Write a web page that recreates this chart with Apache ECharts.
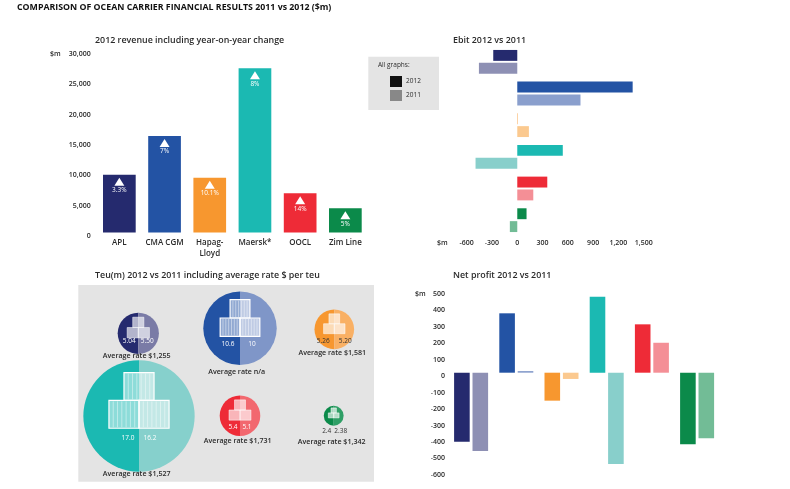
<!DOCTYPE html>
<html>
<head>
<meta charset="utf-8">
<style>html,body{margin:0;padding:0;background:#fff}#chart{width:790px;height:489px}</style>
<script src="https://cdn.jsdelivr.net/npm/echarts@6/dist/echarts.min.js"></script>
</head>
<body>
<div id="chart"></div>
<script>
// Carriers and their results
const carriers = ['APL', 'CMA CGM', 'Hapag-\nLloyd', 'Maersk*', 'OOCL', 'Zim Line'];
const revenue2012 = [9530, 15900, 9030, 27070, 6460, 3990];
const revenueChange = ['3.3%', '7%', '10.1%', '8%', '14%', '5%'];
const ebit2012 = [-285, 1369, 5, 540, 356, 110];
const ebit2011 = [-455, 750, 138, -495, 190, -88];
const netProfit2012 = [-419, 361, -170, 462, 294, -435];
const netProfit2011 = [-476, 10, -38, -555, 182, -399];
const teu2012 = [5.04, 10.6, 5.26, 17.0, 5.4, 2.4];
const teu2011 = [5.50, 10, 5.20, 16.2, 5.1, 2.38];
const teuLabels2012 = ['5.04', '10.6', '5.26', '17.0', '5.4', '2.4'];
const teuLabels2011 = ['5.50', '10', '5.20', '16.2', '5.1', '2.38'];
const averageRates = ['$1,255', 'n/a', '$1,581', '$1,527', '$1,731', '$1,342'];
const revenueTicks = { min: 0, max: 30000, interval: 5000 };
const ebitTicks = { min: -600, max: 1500, interval: 300 };
const netTicks = { min: -600, max: 500, interval: 100 };

// Palette per carrier
const colors2012 = ['#252a6e', '#2353a4', '#f7972f', '#1bb9b2', '#ee2b37', '#0b8a4a'];
const colors2011 = ['#8e90b4', '#8a9fcd', '#fbc98f', '#88cfcb', '#f48f96', '#72bc96'];
const bubbleTints2011 = ['#7a7ba6', '#7f96c8', '#f9b064', '#86d0cc', '#f2686f', '#2f9f66'];

// Where each bubble sits inside the grey panel
const bubbleLayout = [
  { cx: 138.3, cy: 333.3, dx: 9, dy: 8, ink: '#fff', capX: 136.7, capY: 356.3 },
  { cx: 240, cy: 328.3, dx: 12, dy: 16, ink: '#fff', capX: 236.7, capY: 371.7 },
  { cx: 334.3, cy: 329.3, dx: 11, dy: 11.4, ink: '#333', capX: 332.3, capY: 353.3 },
  { cx: 139, cy: 416, dx: 11, dy: 21.7, ink: '#fff', capX: 136.7, capY: 474.3 },
  { cx: 240, cy: 415.7, dx: 7, dy: 11, ink: '#fff', capX: 237.7, capY: 440.7 },
  { cx: 333.7, cy: 415.7, dx: 7, dy: 15.3, ink: '#333', capX: 331.7, capY: 442.3 }
];

const FONT = '"Open Sans", sans-serif';
const INK = '#2a2a2a';
// Bubble radius grows with the larger of a carrier's two Teu figures
const radiusFor = i => 4.6 * Math.pow(Math.max(teu2012[i], teu2011[i]), 0.88);

function tintedBars(values, palette) {
  return values.map((v, i) => ({ value: v, itemStyle: { color: palette[i] } }));
}

function containerStack(cx, cy, r) {
  const w = 0.54 * r, h = 0.5 * r;
  const big = r > 30;
  const boxes = [[cx - w / 2, cy - 0.78 * r], [cx - w, cy - 0.28 * r], [cx, cy - 0.28 * r]];
  const out = [];
  boxes.forEach(([x, y]) => {
    out.push({
      type: 'rect', shape: { x, y, width: w, height: h },
      style: {
        fill: big ? 'rgba(255,255,255,0.5)' : 'rgba(255,255,255,0.65)',
        stroke: big ? '#fff' : 'rgba(255,255,255,0.75)',
        lineWidth: big ? 1.2 : 0.7
      }
    });
    if (big) {
      const n = 7;
      for (let k = 1; k < n; k++) {
        out.push({
          type: 'line',
          shape: { x1: x + w * k / n, y1: y + 1, x2: x + w * k / n, y2: y + h - 1 },
          style: { stroke: 'rgba(255,255,255,0.55)', lineWidth: 0.8 }
        });
      }
    }
  });
  return out;
}

function renderBubble(params, api) {
  const i = api.value(0);
  const p = bubbleLayout[i];
  const r = radiusFor(i);
  const half = (start, end, fill) => ({
    type: 'sector',
    shape: { cx: p.cx, cy: p.cy, r, r0: 0, startAngle: start, endAngle: end, clockwise: true },
    style: { fill }
  });
  const label = (x, y, text, fill, font) => ({
    type: 'text', x, y,
    style: { text, fill, font, textAlign: 'center', textVerticalAlign: 'middle' }
  });
  const small = `6.5px ${FONT}`;
  return {
    type: 'group',
    children: [
      half(Math.PI / 2, Math.PI * 1.5, colors2012[i]),
      half(Math.PI * 1.5, Math.PI * 2.5, bubbleTints2011[i]),
      ...containerStack(p.cx, p.cy, r),
      label(p.cx - p.dx, p.cy + p.dy, teuLabels2012[i], p.ink, small),
      label(p.cx + p.dx, p.cy + p.dy, teuLabels2011[i], p.ink, small),
      label(p.capX, p.capY, 'Average rate ' + averageRates[i], INK, `600 7.1px ${FONT}`)
    ]
  };
}

const text = (x, y, str, font, extra) => ({
  type: 'text', x, y, z: 1,
  style: Object.assign({ text: str, font, fill: INK, textVerticalAlign: 'middle' }, extra || {})
});
const heading = `600 8.9px ${FONT}`;
const tickFont = { fontFamily: FONT, fontSize: 7, fontWeight: 600, color: INK };

const option = {
  animation: false,
  textStyle: { fontFamily: FONT },
  graphic: [
    { type: 'rect', z: 0, shape: { x: 78.3, y: 285, width: 295.7, height: 196.7 }, style: { fill: '#e4e4e4' } },
    { type: 'rect', z: 0, shape: { x: 368.3, y: 56.7, width: 70.7, height: 53.3 }, style: { fill: '#e4e4e4' } },
    { type: 'rect', z: 1, shape: { x: 390, y: 76, width: 12, height: 11 }, style: { fill: '#111' } },
    { type: 'rect', z: 1, shape: { x: 390, y: 90, width: 12, height: 11 }, style: { fill: '#888' } },
    text(378, 65.5, 'All graphs:', `6.5px ${FONT}`),
    text(406, 81.5, '2012', `6.5px ${FONT}`),
    text(406, 95.5, '2011', `6.5px ${FONT}`),
    text(17, 7.5, 'COMPARISON OF OCEAN CARRIER FINANCIAL RESULTS 2011 vs 2012 ($m)', `700 8.8px ${FONT}`, { fill: '#111' }),
    text(95, 40.5, '2012 revenue including year-on-year change', heading),
    text(453, 40.5, 'Ebit 2012 vs 2011', heading),
    text(95, 275, 'Teu(m) 2012 vs 2011 including average rate $ per teu', heading),
    text(453, 275, 'Net profit 2012 vs 2011', heading),
    text(50, 53.5, '$m', `600 7px ${FONT}`),
    text(437, 242.5, '$m', `600 7px ${FONT}`),
    text(415, 293.5, '$m', `600 7px ${FONT}`)
  ],
  grid: [
    { left: 96.75, top: 50.5, width: 271.2, height: 182 },
    { left: 466.7, top: 46, width: 177, height: 190 },
    { left: 448.5, top: 290.45, width: 271.2, height: 180.95 }
  ],
  xAxis: [
    {
      gridIndex: 0, type: 'category', data: carriers,
      axisLine: { show: false }, axisTick: { show: false },
      axisLabel: Object.assign({}, tickFont, { fontSize: 8, lineHeight: 11, margin: 5, interval: 0 })
    },
    Object.assign({ gridIndex: 1, type: 'value' }, ebitTicks, {
      axisLine: { show: false }, axisTick: { show: false }, splitLine: { show: false },
      axisLabel: Object.assign({}, tickFont, { margin: 3, formatter: v => v.toLocaleString('en-US') })
    }),
    {
      gridIndex: 2, type: 'category', data: carriers,
      axisLine: { show: false }, axisTick: { show: false }, axisLabel: { show: false }
    }
  ],
  yAxis: [
    Object.assign({ gridIndex: 0, type: 'value' }, revenueTicks, {
      axisLine: { show: false }, axisTick: { show: false }, splitLine: { show: false },
      axisLabel: Object.assign({}, tickFont, { margin: 6, verticalAlign: 'top', formatter: v => v.toLocaleString('en-US') })
    }),
    {
      gridIndex: 1, type: 'category', data: carriers, inverse: true,
      axisLine: { show: false }, axisTick: { show: false }, axisLabel: { show: false }
    },
    Object.assign({ gridIndex: 2, type: 'value' }, netTicks, {
      axisLine: { show: false }, axisTick: { show: false }, splitLine: { show: false },
      axisLabel: Object.assign({}, tickFont, { margin: 3.5, verticalAlign: 'top' })
    })
  ],
  series: [
    {
      name: 'Revenue 2012', type: 'bar', xAxisIndex: 0, yAxisIndex: 0,
      barWidth: 32.7, data: tintedBars(revenue2012, colors2012)
    },
    {
      name: 'Year-on-year change', type: 'scatter', xAxisIndex: 0, yAxisIndex: 0, z: 5,
      symbol: 'triangle', symbolSize: [10, 8], symbolOffset: [0, 7],
      itemStyle: { color: '#fff', opacity: 1 },
      label: {
        show: true, position: 'bottom', distance: 0, color: '#fff',
        fontFamily: FONT, fontSize: 6.5, offset: [0, 1],
        formatter: p => revenueChange[p.dataIndex]
      },
      data: revenue2012
    },
    {
      name: 'Ebit 2012', type: 'bar', xAxisIndex: 1, yAxisIndex: 1,
      barWidth: 10.9, barGap: '18%', data: tintedBars(ebit2012, colors2012)
    },
    {
      name: 'Ebit 2011', type: 'bar', xAxisIndex: 1, yAxisIndex: 1,
      barWidth: 10.9, barGap: '18%', data: tintedBars(ebit2011, colors2011)
    },
    {
      name: 'Net profit 2012', type: 'bar', xAxisIndex: 2, yAxisIndex: 2,
      barWidth: 15.6, barGap: '18%', data: tintedBars(netProfit2012, colors2012)
    },
    {
      name: 'Net profit 2011', type: 'bar', xAxisIndex: 2, yAxisIndex: 2,
      barWidth: 15.6, barGap: '18%', data: tintedBars(netProfit2011, colors2011)
    },
    {
      name: 'Teu', type: 'custom', coordinateSystem: 'none', z: 3,
      renderItem: renderBubble,
      data: bubbleLayout.map((_, i) => [i])
    }
  ]
};

echarts.init(document.getElementById('chart'), null, { renderer: 'canvas' }).setOption(option);
</script>
</body>
</html>
